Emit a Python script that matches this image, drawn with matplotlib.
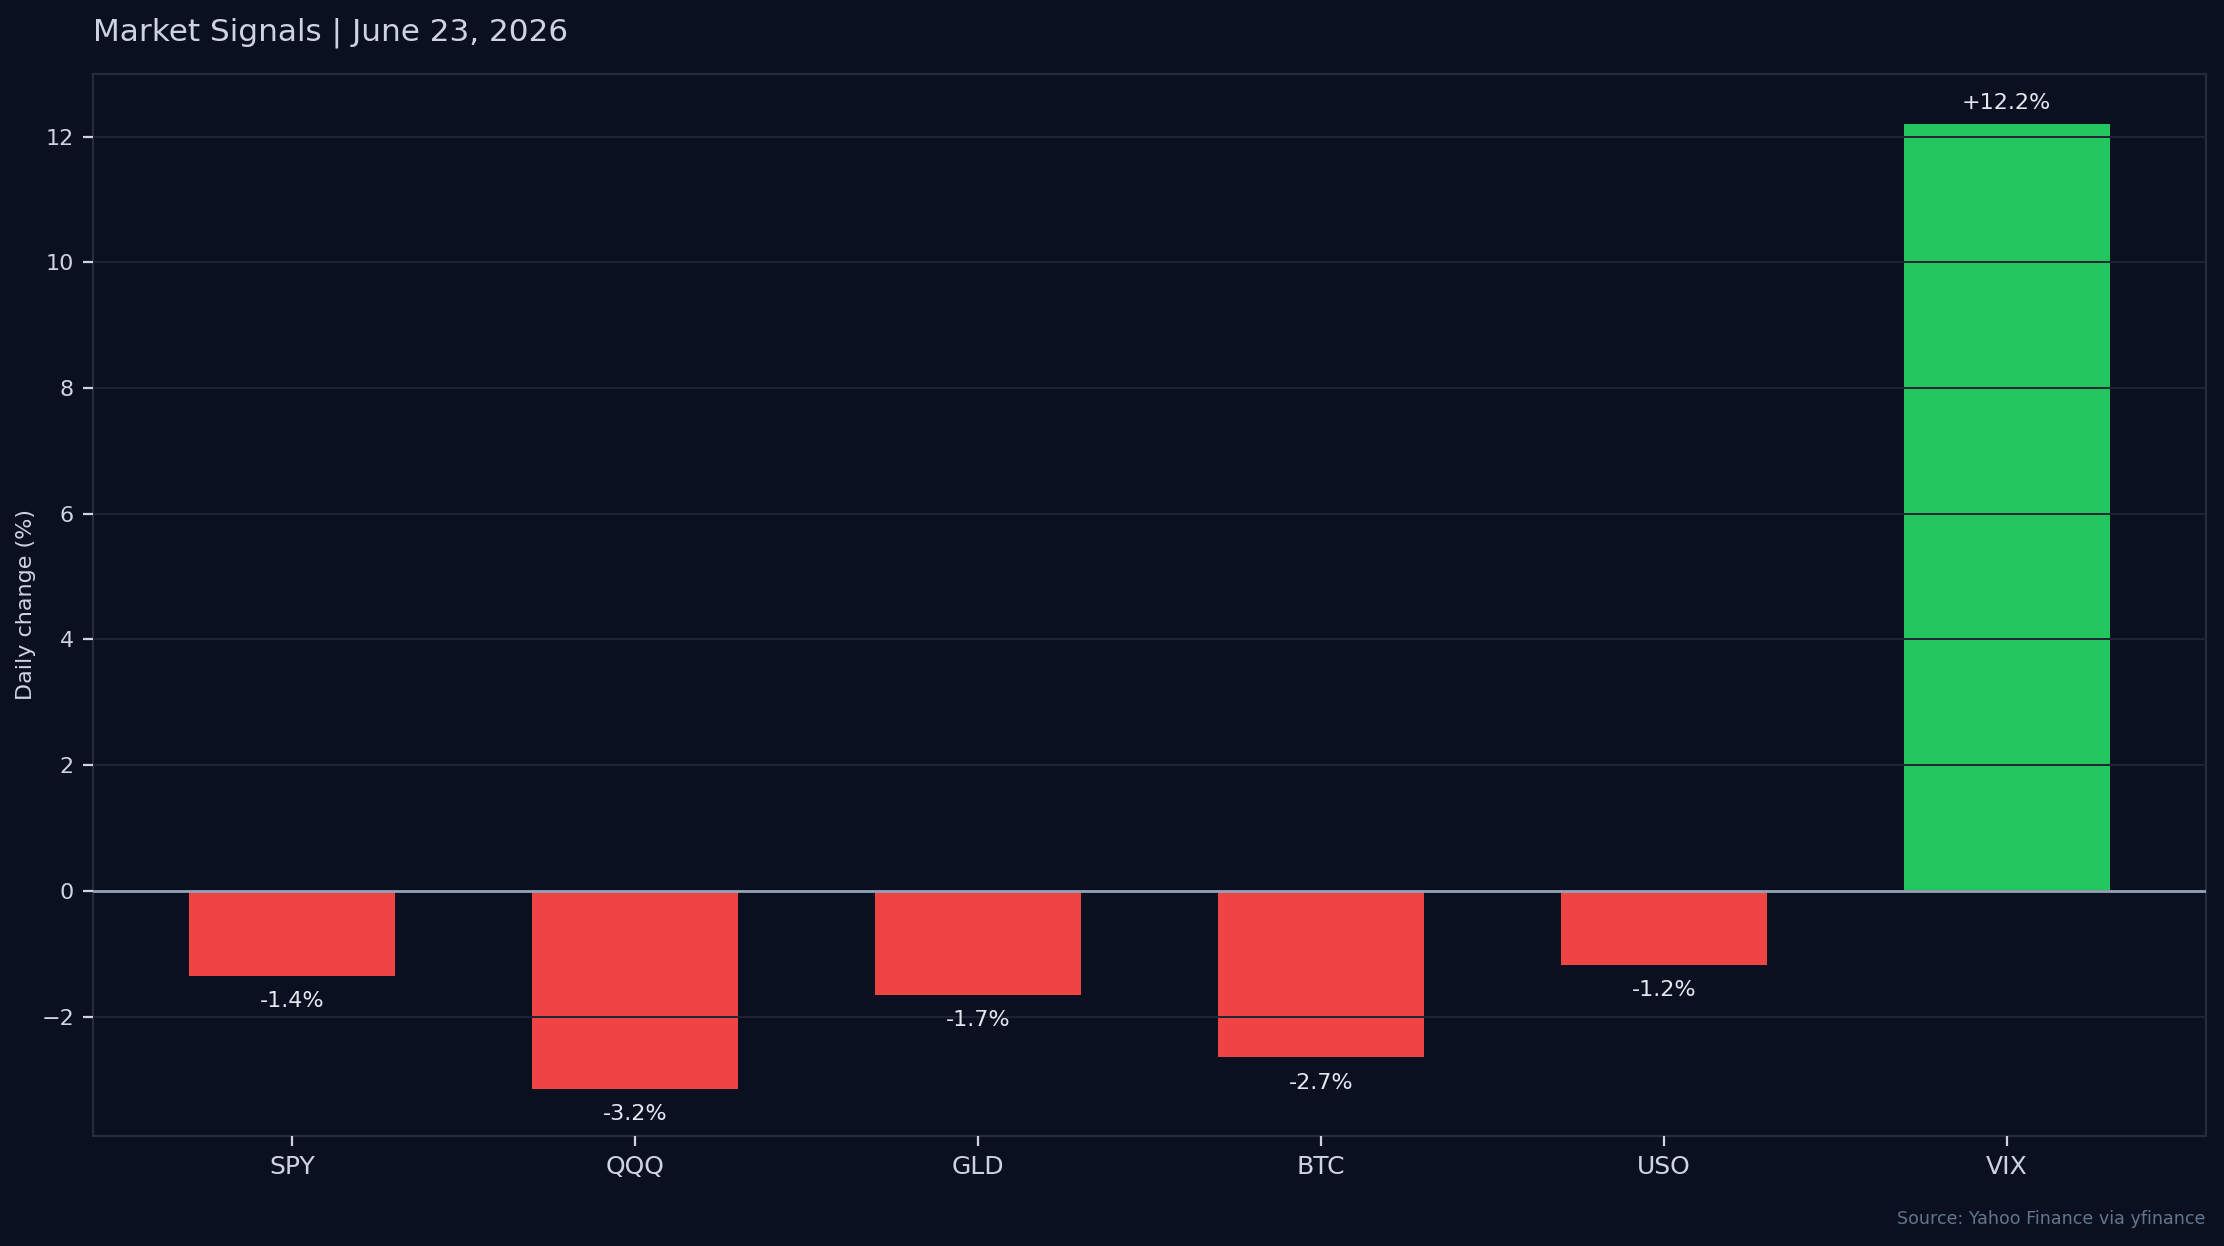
import matplotlib
matplotlib.use("Agg")
import matplotlib.pyplot as plt

# daily % change per ticker
tickers = ["SPY", "QQQ", "GLD", "BTC", "USO", "VIX"]
changes = [-1.35, -3.15, -1.66, -2.65, -1.18, 12.2]
labels = ["-1.4%", "-3.2%", "-1.7%", "-2.7%", "-1.2%", "+12.2%"]

BG = "#0b1020"
RED = "#ef4444"
GREEN = "#22c55e"
TEXT = "#cbd5e1"
GRID = "#1e2532"


def main():
    fig = plt.figure(figsize=(11.12, 6.23), dpi=200, facecolor=BG)
    ax = fig.add_axes([0.042, 0.0883, 0.9497, 0.8525])
    ax.set_facecolor(BG)

    colors = [GREEN if v >= 0 else RED for v in changes]
    bars = ax.bar(tickers, changes, width=0.6, color=colors, zorder=1)

    ax.grid(axis="y", color=GRID, linewidth=0.7, zorder=2)
    ax.set_axisbelow(False)
    ax.axhline(0, color="#94a3b8", linewidth=1.0, zorder=3)

    for b, v, lab in zip(bars, changes, labels):
        x = b.get_x() + b.get_width() / 2
        if v >= 0:
            ax.annotate(lab, (x, v), xytext=(0, 4), textcoords="offset points",
                        ha="center", va="bottom", color="#e2e8f0", fontsize=8)
        else:
            ax.annotate(lab, (x, v), xytext=(0, -5.5), textcoords="offset points",
                        ha="center", va="top", color="#e2e8f0", fontsize=8)

    ax.set_ylim(-3.9, 13)
    ax.set_ylabel("Daily change (%)", color=TEXT, fontsize=8, labelpad=2)
    ax.tick_params(axis="x", colors=TEXT, labelsize=9)
    ax.tick_params(axis="y", colors=TEXT, labelsize=8)
    for s in ax.spines.values():
        s.set_color("#252b38")

    ax.set_title("Market Signals | June 23, 2026", loc="left", color=TEXT,
                 fontsize=11.2, pad=12)
    fig.text(0.9917, 0.022, "Source: Yahoo Finance via yfinance", ha="right",
             va="center", color="#64748b", fontsize=6.3)

    fig.savefig("out.png", dpi=200, facecolor=BG)


if __name__ == "__main__":
    main()
